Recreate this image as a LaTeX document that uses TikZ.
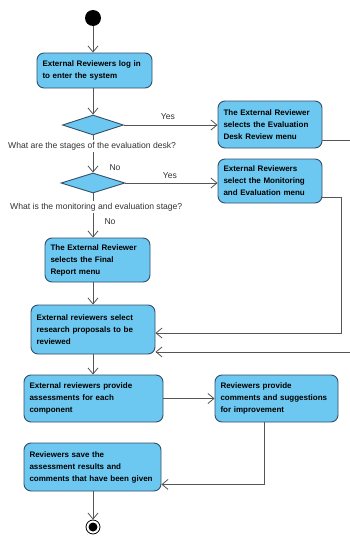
\documentclass[tikz,border=0pt]{standalone}
\usepackage{fontspec}
\setmainfont{Liberation Sans}
\usetikzlibrary{arrows.meta,shapes.geometric,positioning}
\definecolor{actfill}{RGB}{108,200,240}
\definecolor{actline}{RGB}{52,78,105}
\definecolor{flowgray}{RGB}{85,85,85}

\begin{document}
\begin{tikzpicture}[x=1pt,y=-1pt,
  act/.style={draw=actline,fill=actfill,rounded corners=7pt,line width=0.9pt,align=left,inner xsep=5.5pt,font=\fontsize{8}{12}\selectfont\bfseries},
  dec/.style={draw=actline,fill=actfill,diamond,inner sep=0pt,line width=0.9pt,minimum width=61pt,minimum height=20pt},
  flow/.style={draw=flowgray,line width=0.8pt,-{Straight Barb[length=6pt,width=10pt]}},
  lbl/.style={font=\fontsize{8.6}{10}\selectfont,text=black!80,inner xsep=0pt},
  quest/.style={lbl,fill=white,inner ysep=1.5pt}]

\clip (0,0) rectangle (350,536);

\node[circle,fill=black,minimum size=16pt,inner sep=0pt] (start) at (93,18) {};

\node[act,text width=104pt,minimum height=35pt] (login) at (94.5,70.5) {External Reviewers log in\\to enter the system};
\node[dec] (dec1) at (93,125) {};
\node[act,text width=93pt,minimum height=47pt] (desk) at (270,124.5) {The External Reviewer\\selects the Evaluation\\Desk Review menu};
\node[dec,minimum width=64pt] (dec2) at (93,183) {};
\node[act,text width=93pt,minimum height=44pt] (monitor) at (270,181) {External Reviewers\\select the Monitoring\\and Evaluation menu};
\node[act,text width=94pt,minimum height=44pt] (finalrep) at (97.5,260) {The External Reviewer\\selects the Final\\Report menu};
\node[act,text width=113pt,minimum height=49pt] (select) at (93,329.5) {External reviewers select\\research proposals to be\\reviewed};
\node[act,text width=128pt,minimum height=47pt] (assess) at (93.5,398.5) {External reviewers provide\\assessments for each\\component};
\node[act,text width=112pt,minimum height=47pt] (comment) at (276.5,398.5) {Reviewers provide\\comments and suggestions\\for improvement};
\node[act,text width=126pt,minimum height=48pt] (save) at (92.5,467) {Reviewers save the\\assessment results and\\comments that have been given};

\node[circle,draw=black,line width=0.8pt,minimum size=14pt,inner sep=0pt] (stop) at (93,527) {};
\node[circle,fill=black,minimum size=9pt,inner sep=0pt] (stopdot) at (stop) {};

\node[lbl] (yes1) at (168,117) {Yes};
\node[lbl] (yes2) at (170,176) {Yes};
\node[lbl] (no1) at (115,168) {No};
\node[lbl] (no2) at (110,222) {No};

\coordinate (mret) at (341,0);
\coordinate (dret) at (356,0);

\draw[flow] (start) -- (start |- login.north);
\draw[flow] (login.south -| dec1) -- (dec1.north);
\draw[flow] (dec1.east) -- (dec1.east -| desk.west);
\draw[flow] (dec1.south) -- (dec2.north);
\draw[flow] (dec2.east) -- (dec2.east -| monitor.west);
\draw[flow] (dec2.south) -- (dec2.south |- finalrep.north);
\draw[flow] (finalrep.south -| select) -- (select.north);
\draw[flow] ([yshift=6pt]monitor.south east) -- ([yshift=6pt]monitor.south east -| mret) |- ([yshift=-3.5pt]select.east);
\draw[flow] ([yshift=8pt]desk.south east) -- ([yshift=8pt]desk.south east -| dret) |- ([yshift=2.5pt]select.south east);
\draw[flow] (select.south) -- (select.south |- assess.north);
\draw[flow] (assess.east) -- (comment.west);
\draw[flow] ([xshift=-12.5pt]comment.south) |- ([yshift=7pt]save.south east);
\draw[flow] (save.south -| stop) -- (stop.north);

% questions sit over the No arrows
\node[quest,anchor=west] (q1) at (8,146) {What are the stages of the evaluation desk?};
\node[quest,anchor=west] (q2) at (10,207) {What is the monitoring and evaluation stage?};

\end{tikzpicture}
\end{document}
